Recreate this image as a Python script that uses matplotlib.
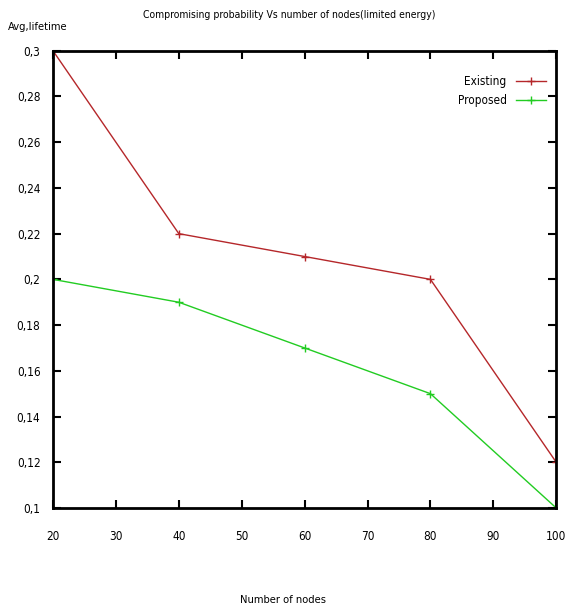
import matplotlib
matplotlib.use("Agg")
import matplotlib.pyplot as plt
from matplotlib.ticker import FuncFormatter

plt.rcParams['font.family'] = ['DejaVu Sans']
plt.rcParams['font.stretch'] = 'condensed'

nodos = [20, 40, 60, 80, 100]
existing = [0.3, 0.22, 0.21, 0.2, 0.12]
proposed = [0.2, 0.19, 0.17, 0.15, 0.1]

fig = plt.figure(figsize=(5.68, 6.08), dpi=100)
ax = fig.add_axes([0.0933, 0.1645, 0.886, 0.752])

ax.plot(nodos, existing, color='#b5272a', linewidth=1, marker='+',
        markersize=6, label='Existing')
ax.plot(nodos, proposed, color='#22cc22', linewidth=1, marker='+',
        markersize=6, label='Proposed')

ax.set_xlim(20, 100)
ax.set_ylim(0.1, 0.3)
ax.set_xticks(range(20, 101, 10))
ax.set_yticks([0.1 + 0.02 * i for i in range(11)])


def coma(v, pos):
    s = ('%.2f' % v).rstrip('0')
    return s.replace('.', ',')


ax.yaxis.set_major_formatter(FuncFormatter(coma))
ax.tick_params(direction='in', length=6, width=1.5, labelsize=8.5,
               top=True, right=True)
ax.tick_params(axis='y', pad=9)
ax.tick_params(axis='x', pad=16)
for lado in ax.spines.values():
    lado.set_linewidth(2)

fig.text(0.51, 0.975, 'Compromising probability Vs number of nodes(limited energy)',
         fontsize=7.5, ha='center', va='center')
fig.text(0.014, 0.955, 'Avg,lifetime', fontsize=8, ha='left', va='center')
fig.text(0.498, 0.013, 'Number of nodes', fontsize=8, ha='center', va='center')

ax.legend(loc='upper right', frameon=False, markerfirst=False, fontsize=8.5,
          handlelength=2.5, bbox_to_anchor=(1.0, 0.97))

plt.savefig("out.png", dpi=100)
plt.close()
